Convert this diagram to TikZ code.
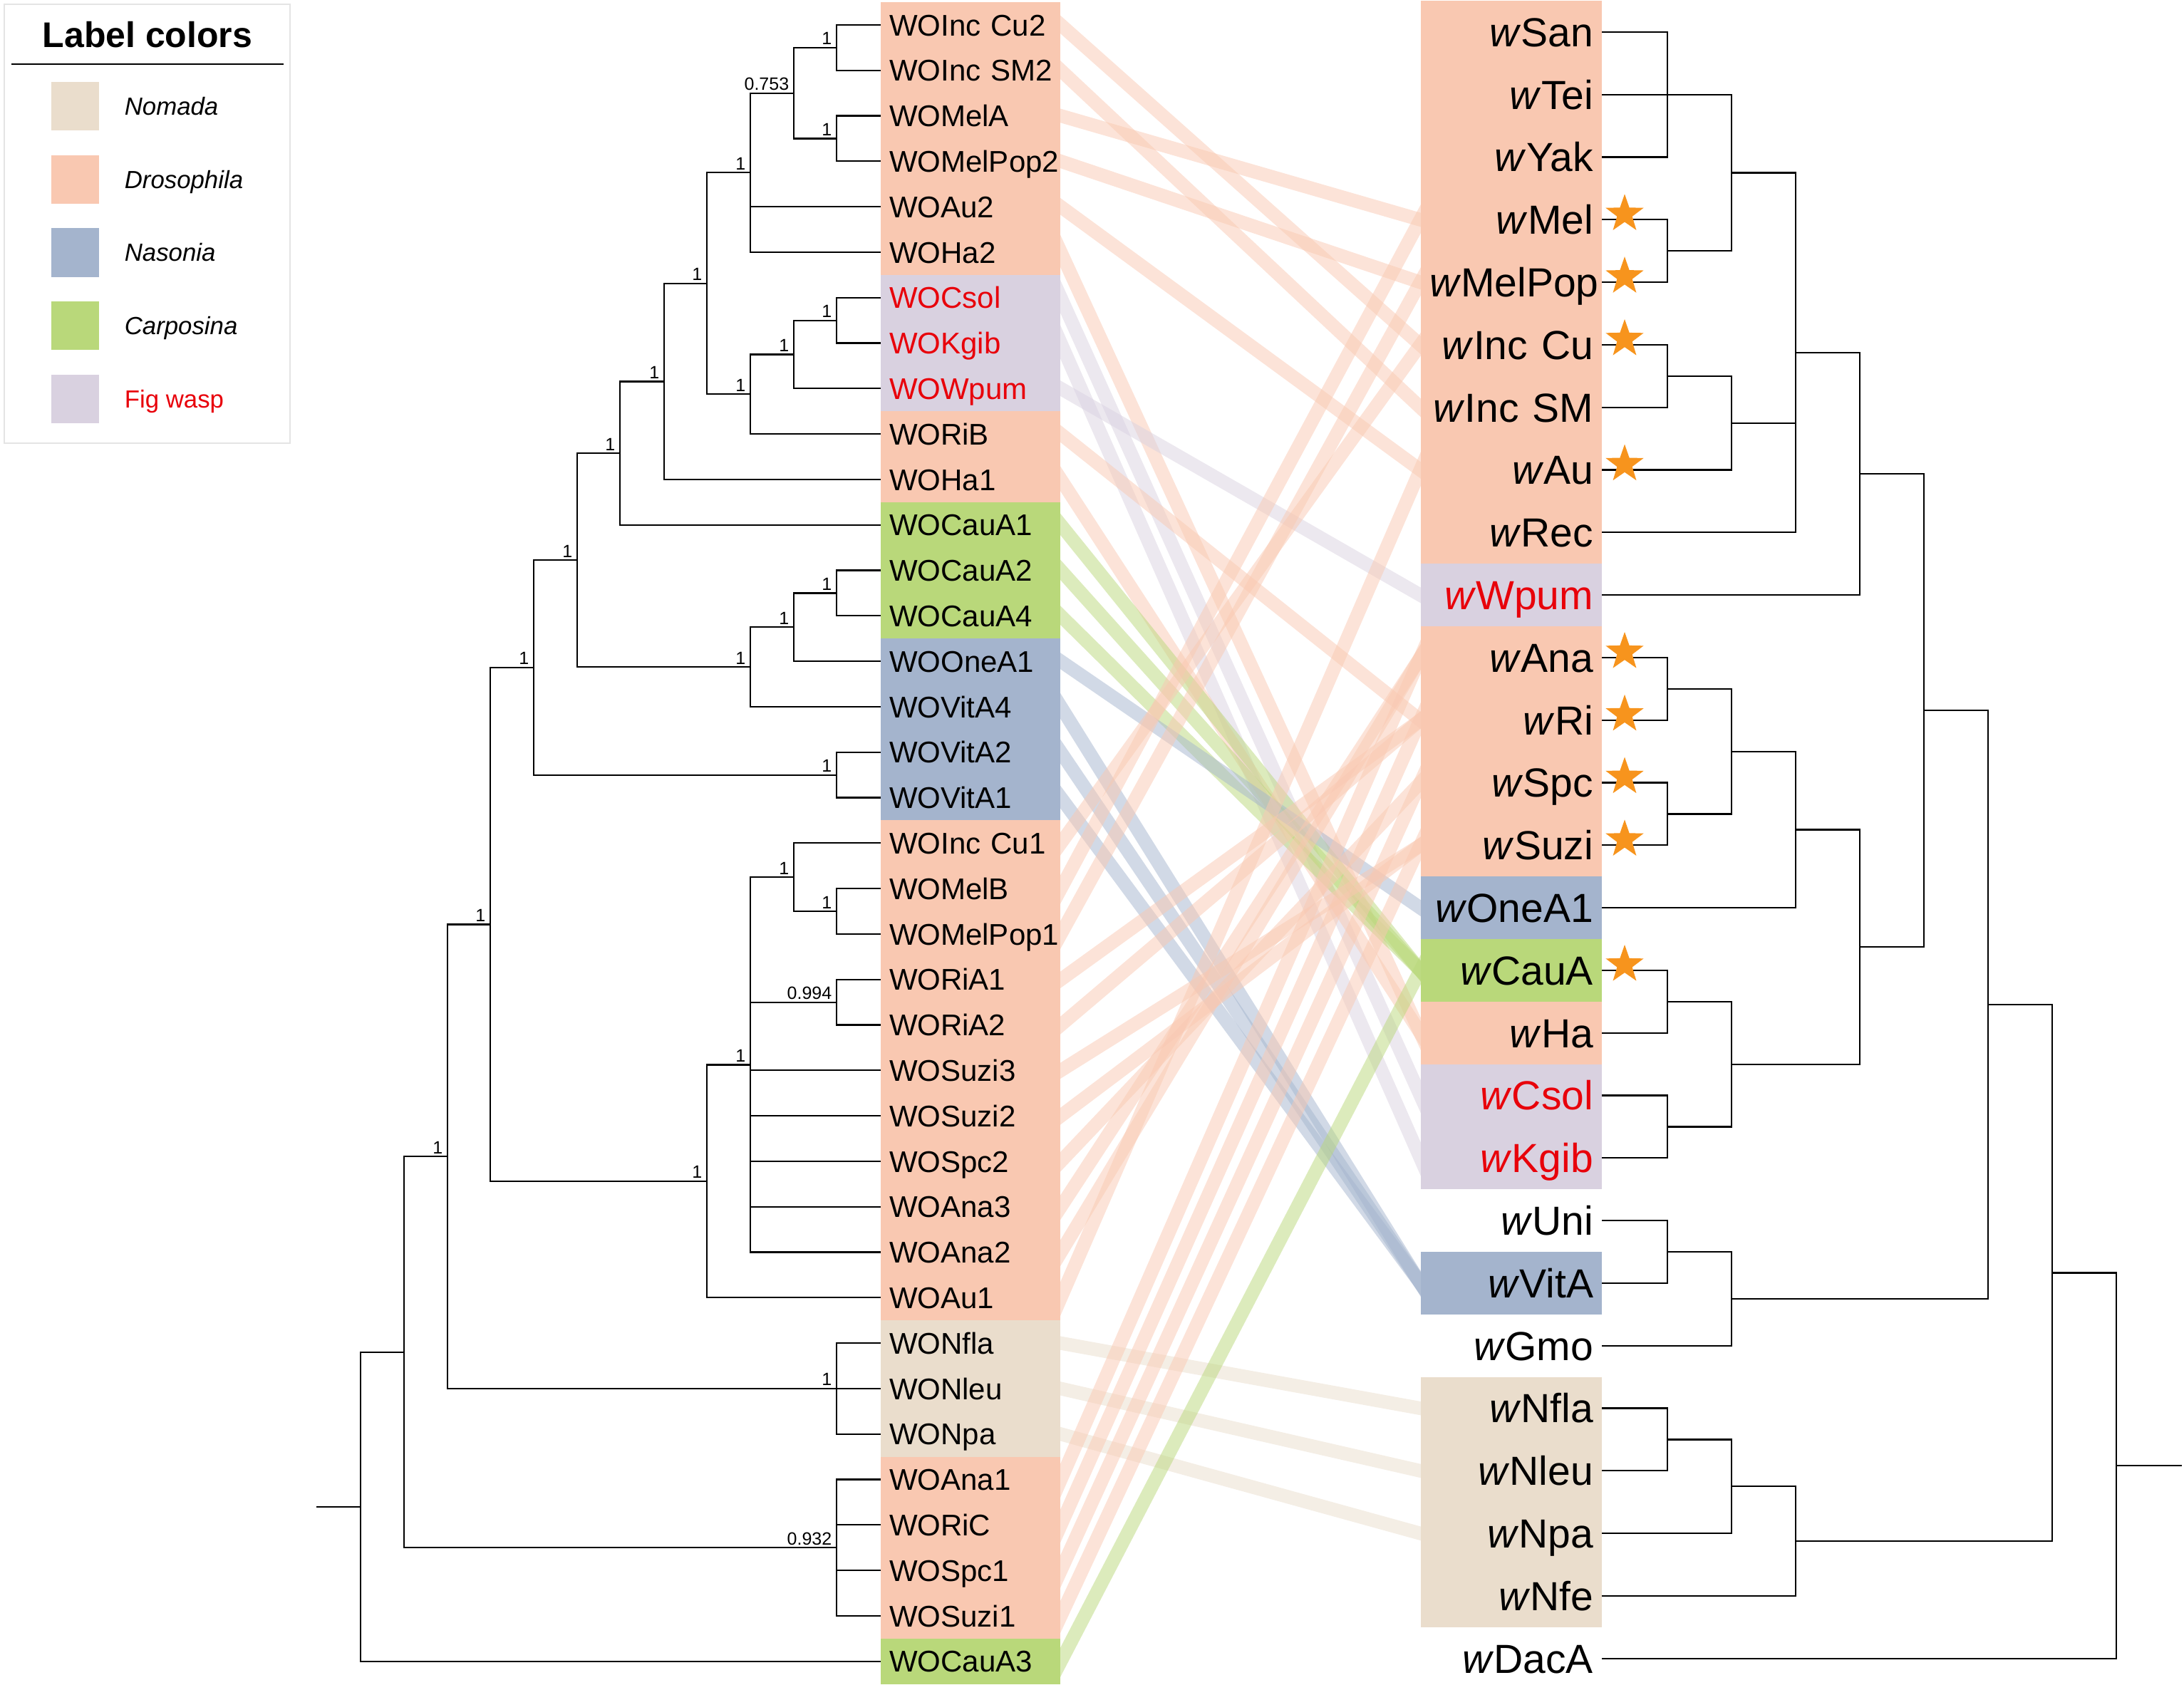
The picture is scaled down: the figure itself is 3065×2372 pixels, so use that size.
\documentclass[tikz,border=0pt]{standalone}
\usepackage{fontspec}
\setmainfont{Liberation Sans}
\usetikzlibrary{shapes.geometric}
\definecolor{cNom}{RGB}{234,221,204}
\definecolor{cDro}{RGB}{249,200,177}
\definecolor{cNas}{RGB}{164,180,205}
\definecolor{cCar}{RGB}{185,216,122}
\definecolor{cFig}{RGB}{217,209,224}
\definecolor{cRed}{RGB}{232,0,10}
\definecolor{cStar}{RGB}{247,148,29}
\definecolor{cLeg}{RGB}{228,228,228}
\def\LYr#1{(35+(#1-1)*63.8)}
\def\RYr#1{(45+(#1-1)*87.8)}
\begin{document}
\begin{tikzpicture}[x=0.25pt,y=-0.25pt,
  treeline/.style={line width=0.55pt, line cap=rect, black},
  lablft/.style={inner xsep=3pt, inner ysep=0pt, minimum width=63pt, minimum height=15.95pt, text width=57pt, align=left, font=\fontsize{10.5pt}{12pt}\selectfont, text height=7.52pt, text depth=0pt},
  labrgt/.style={inner xsep=3pt, inner ysep=0pt, minimum width=63.5pt, minimum height=21.95pt, text width=57.5pt, align=right, font=\fontsize{14.25pt}{16pt}\selectfont, text height=10.2pt, text depth=0pt},
  bootlab/.style={inner sep=0pt, anchor=base east, font=\fontsize{6.25pt}{7pt}\selectfont},
  connline/.style={line width=4.75pt, opacity=0.5, shorten <=-6pt, shorten >=-6pt},
  starmark/.style={star, star points=5, star point ratio=2.5, fill=cStar, draw=none, inner sep=0pt, outer sep=0pt, minimum size=14pt},
  legtext/.style={inner sep=0pt, anchor=base west, font=\fontsize{8.7pt}{10pt}\selectfont\itshape},
]
\useasboundingbox (0,0) rectangle (3065,2372);

% ---------- label backgrounds ----------
\fill[cDro] (1236,3.1) rectangle (1488,385.9);
\fill[cFig] (1236,385.9) rectangle (1488,577.3);
\fill[cDro] (1236,577.3) rectangle (1488,704.9);
\fill[cCar] (1236,704.9) rectangle (1488,896.3);
\fill[cNas] (1236,896.3) rectangle (1488,1151.5);
\fill[cDro] (1236,1151.5) rectangle (1488,1853.3);
\fill[cNom] (1236,1853.3) rectangle (1488,2044.7);
\fill[cDro] (1236,2044.7) rectangle (1488,2299.9);
\fill[cCar] (1236,2299.9) rectangle (1488,2363.7);

\fill[cDro] (1994,1.1) rectangle (2248,791.3);
\fill[cFig] (1994,791.3) rectangle (2248,879.1);
\fill[cDro] (1994,879.1) rectangle (2248,1230.3);
\fill[cNas] (1994,1230.3) rectangle (2248,1318.1);
\fill[cCar] (1994,1318.1) rectangle (2248,1405.9);
\fill[cDro] (1994,1405.9) rectangle (2248,1493.7);
\fill[cFig] (1994,1493.7) rectangle (2248,1669.3);
\fill[cNas] (1994,1757.1) rectangle (2248,1844.9);
\fill[cNom] (1994,1932.7) rectangle (2248,2283.9);

% ---------- left labels ----------
\foreach \i/\t/\c in {1/WOInc Cu2/black, 2/WOInc SM2/black, 3/WOMelA/black, 4/WOMelPop2/black,
  5/WOAu2/black, 6/WOHa2/black, 7/WOCsol/cRed, 8/WOKgib/cRed, 9/WOWpum/cRed, 10/WORiB/black,
  11/WOHa1/black, 12/WOCauA1/black, 13/WOCauA2/black, 14/WOCauA4/black, 15/WOOneA1/black,
  16/WOVitA4/black, 17/WOVitA2/black, 18/WOVitA1/black, 19/WOInc Cu1/black, 20/WOMelB/black,
  21/WOMelPop1/black, 22/WORiA1/black, 23/WORiA2/black, 24/WOSuzi3/black, 25/WOSuzi2/black,
  26/WOSpc2/black, 27/WOAna3/black, 28/WOAna2/black, 29/WOAu1/black, 30/WONfla/black,
  31/WONleu/black, 32/WONpa/black, 33/WOAna1/black, 34/WORiC/black, 35/WOSpc1/black,
  36/WOSuzi1/black, 37/WOCauA3/black}
  \node[lablft, text=\c] (L\i) at (1362,{\LYr{\i}}) {\mbox{\t}};

% ---------- right labels ----------
\foreach \j/\t/\c in {1/San/black, 2/Tei/black, 3/Yak/black, 4/Mel/black, 5/MelPop/black,
  6/Inc Cu/black, 7/Inc SM/black, 8/Au/black, 9/Rec/black, 10/Wpum/cRed, 11/Ana/black,
  12/Ri/black, 13/Spc/black, 14/Suzi/black, 15/OneA1/black, 16/CauA/black, 17/Ha/black,
  18/Csol/cRed, 19/Kgib/cRed, 20/Uni/black, 21/VitA/black, 22/Gmo/black, 23/Nfla/black,
  24/Nleu/black, 25/Npa/black, 26/Nfe/black, 27/DacA/black}
  \node[labrgt, text=\c] (R\j) at (2121,{\RYr{\j}}) {\mbox{\textit{w}\t}};

% ---------- connectors ----------
\begin{scope}
\clip (1488,-20) rectangle (1994,2400);
\foreach \a/\b/\c in {1/6/cDro, 2/7/cDro, 3/4/cDro, 4/5/cDro, 5/8/cDro, 6/17/cDro,
  7/18/cFig, 8/19/cFig, 9/10/cFig, 10/12/cDro, 11/17/cDro, 12/16/cCar, 13/16/cCar,
  14/16/cCar, 15/15/cNas, 16/21/cNas, 17/21/cNas, 18/21/cNas, 19/6/cDro, 20/4/cDro,
  21/5/cDro, 22/12/cDro, 23/12/cDro, 24/14/cDro, 25/14/cDro, 26/13/cDro, 27/11/cDro,
  28/11/cDro, 29/8/cDro, 30/23/cNom, 31/24/cNom, 32/25/cNom, 33/11/cDro, 34/12/cDro,
  35/13/cDro, 36/14/cDro, 37/16/cCar}
  \draw[connline, draw=\c] (L\a.east) -- (R\b.west);
\end{scope}

% ---------- left tree ----------
\coordinate (n1) at (1174,{\LYr{1.5}});
\coordinate (n2) at (1174,{\LYr{3.5}});
\coordinate (n3) at (1114,{\LYr{2.5}});
\coordinate (n4) at (1053,{\LYr{4.25}});
\coordinate (n5) at (1174,{\LYr{7.5}});
\coordinate (n6) at (1114,{\LYr{8.25}});
\coordinate (n7) at (1053,{\LYr{9.125}});
\coordinate (n8) at (992,{\LYr{6.6875}});
\coordinate (n9) at (932,{\LYr{8.84375}});
\coordinate (n10) at (870,{\LYr{10.421875}});
\coordinate (n11) at (1174,{\LYr{13.5}});
\coordinate (n12) at (1114,{\LYr{14.25}});
\coordinate (n13) at (1053,{\LYr{15.125}});
\coordinate (n14) at (810,{\LYr{12.7734}});
\coordinate (n15) at (1174,{\LYr{17.5}});
\coordinate (n16) at (749,{\LYr{15.1367}});
\coordinate (n17) at (1174,{\LYr{20.5}});
\coordinate (n18) at (1114,{\LYr{19.75}});
\coordinate (n19) at (1174,{\LYr{22.5}});
\coordinate (n20) at (1053,{\LYr{23.875}});
\coordinate (n21) at (992,{\LYr{26.4375}});
\coordinate (n22) at (688,{\LYr{20.7871}});
\coordinate (n23) at (1174,{\LYr{31}});
\coordinate (n24) at (628,{\LYr{25.8936}});
\coordinate (n25) at (1174,{\LYr{34.5}});
\coordinate (n26) at (567,{\LYr{30.1968}});
\coordinate (n27) at (506,{\LYr{33.5984}});
\coordinate (lroot) at (445,{\LYr{33.5984}});

\foreach \p/\q in {n1/L1.west, n1/L2.west, n2/L3.west, n2/L4.west, n3/n1, n3/n2,
  n4/n3, n4/L5.west, n4/L6.west, n5/L7.west, n5/L8.west, n6/n5, n6/L9.west,
  n7/n6, n7/L10.west, n8/n4, n8/n7, n9/n8, n9/L11.west, n10/n9, n10/L12.west,
  n11/L13.west, n11/L14.west, n12/n11, n12/L15.west, n13/n12, n13/L16.west,
  n14/n10, n14/n13, n15/L17.west, n15/L18.west, n16/n14, n16/n15,
  n17/L20.west, n17/L21.west, n18/L19.west, n18/n17, n19/L22.west, n19/L23.west,
  n20/n18, n20/n19, n20/L24.west, n20/L25.west, n20/L26.west, n20/L27.west, n20/L28.west,
  n21/n20, n21/L29.west, n22/n16, n22/n21, n23/L30.west, n23/L31.west, n23/L32.west,
  n24/n22, n24/n23, n25/L33.west, n25/L34.west, n25/L35.west, n25/L36.west,
  n26/n24, n26/n25, n27/n26, n27/L37.west}
  \draw[treeline] (\p) |- (\q);
\draw[treeline] (lroot) -- (n27);

\foreach \n/\v in {n1/1, n2/1, n3/0.753, n4/1, n5/1, n6/1, n7/1, n8/1, n9/1, n10/1,
  n11/1, n12/1, n13/1, n14/1, n15/1, n16/1, n17/1, n18/1, n19/0.994, n20/1, n21/1,
  n22/1, n23/1, n24/1, n25/0.932}
  \node[bootlab] (b\n) at ([shift={(-6,-4)}]\n) {\v};

% ---------- right tree ----------
\coordinate (m1) at (2340,{\RYr{2}});
\coordinate (m2) at (2340,{\RYr{4.5}});
\coordinate (m3) at (2430,{\RYr{3.25}});
\coordinate (m4) at (2340,{\RYr{6.5}});
\coordinate (m5) at (2430,{\RYr{7.25}});
\coordinate (m6) at (2520,{\RYr{6.125}});
\coordinate (m7) at (2610,{\RYr{8.0625}});
\coordinate (m8) at (2340,{\RYr{11.5}});
\coordinate (m9) at (2340,{\RYr{13.5}});
\coordinate (m10) at (2430,{\RYr{12.5}});
\coordinate (m11) at (2520,{\RYr{13.75}});
\coordinate (m12) at (2340,{\RYr{16.5}});
\coordinate (m13) at (2340,{\RYr{18.5}});
\coordinate (m14) at (2430,{\RYr{17.5}});
\coordinate (m15) at (2610,{\RYr{15.625}});
\coordinate (m16) at (2700,{\RYr{11.84375}});
\coordinate (m17) at (2340,{\RYr{20.5}});
\coordinate (m18) at (2430,{\RYr{21.25}});
\coordinate (m19) at (2790,{\RYr{16.546875}});
\coordinate (m20) at (2340,{\RYr{23.5}});
\coordinate (m21) at (2430,{\RYr{24.25}});
\coordinate (m22) at (2520,{\RYr{25.125}});
\coordinate (m23) at (2880,{\RYr{20.8359}});
\coordinate (m24) at (2970,{\RYr{23.918}});
\coordinate (rroot) at (3061,{\RYr{23.918}});

\foreach \p/\q in {m1/R1.east, m1/R2.east, m1/R3.east, m2/R4.east, m2/R5.east, m3/m1, m3/m2,
  m4/R6.east, m4/R7.east, m5/m4, m5/R8.east, m6/m3, m6/m5, m6/R9.east, m7/m6, m7/R10.east,
  m8/R11.east, m8/R12.east, m9/R13.east, m9/R14.east, m10/m8, m10/m9, m11/m10, m11/R15.east,
  m12/R16.east, m12/R17.east, m13/R18.east, m13/R19.east, m14/m12, m14/m13, m15/m11, m15/m14,
  m16/m7, m16/m15, m17/R20.east, m17/R21.east, m18/m17, m18/R22.east, m19/m16, m19/m18,
  m20/R23.east, m20/R24.east, m21/m20, m21/R25.east, m22/m21, m22/R26.east, m23/m19, m23/m22,
  m24/m23, m24/R27.east}
  \draw[treeline] (\p) |- (\q);
\draw[treeline] (m24) -- (rroot);

% ---------- stars ----------
\foreach \j in {4,5,6,8,11,12,13,14,16}
  \node[starmark] (st\j) at (2280,{\RYr{\j}-8}) {};

% ---------- legend ----------
\draw[cLeg, line width=0.5pt] (6,6) rectangle (407,622);
\node[inner sep=0pt, anchor=base, font=\fontsize{12.5pt}{14pt}\selectfont\bfseries] (legtitle) at (207,67) {Label colors};
\draw[line width=0.5pt] (16,90) -- (398,90);
\fill[cNom] (72,115) rectangle (139,183);
\fill[cDro] (72,218) rectangle (139,286);
\fill[cNas] (72,320) rectangle (139,389);
\fill[cCar] (72,423) rectangle (139,491);
\fill[cFig] (72,526) rectangle (139,594);
\node[legtext] (legNom) at (174,162) {Nomada};
\node[legtext] (legDro) at (174,265) {Drosophila};
\node[legtext] (legNas) at (174,367) {Nasonia};
\node[legtext] (legCar) at (174,470) {Carposina};
\node[legtext, font=\fontsize{8.7pt}{10pt}\selectfont\upshape, text=cRed] (legFig) at (174,573) {Fig wasp};
\end{tikzpicture}
\end{document}
